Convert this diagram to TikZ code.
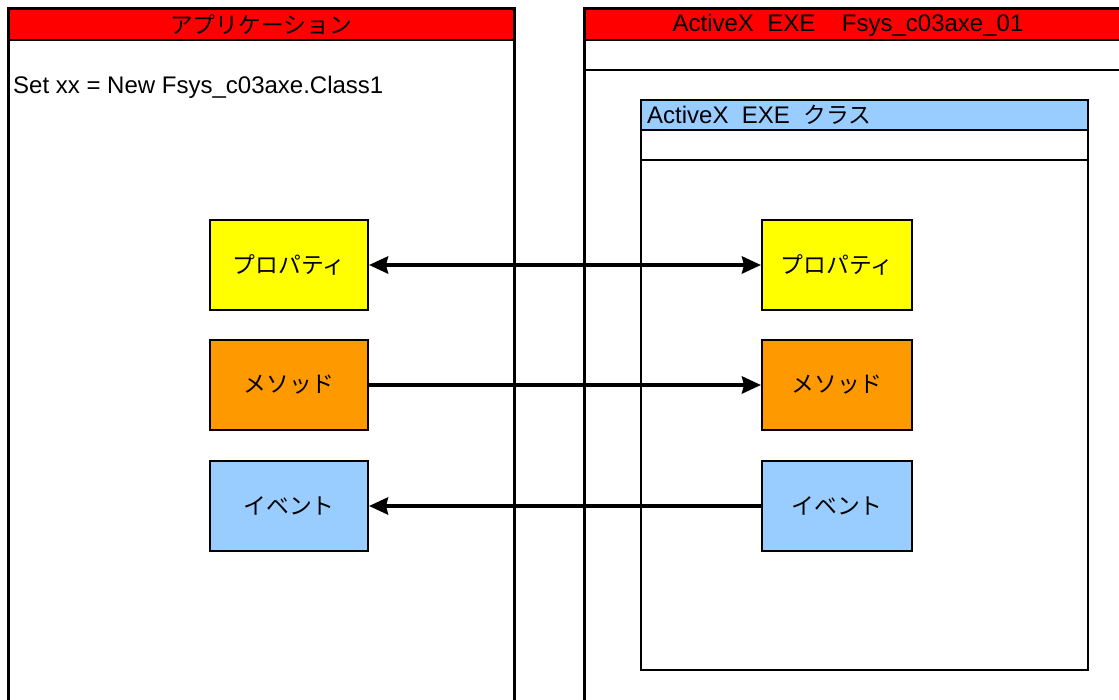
\documentclass[tikz,border=0pt]{standalone}
\usepackage{fontspec}
\setmainfont{Liberation Sans}
\newfontfamily\jp[Scale=0.95]{Noto Sans CJK JP}
\usetikzlibrary{arrows.meta,positioning}
\definecolor{hdred}{HTML}{FF0000}
\definecolor{clsblue}{HTML}{99CCFF}
\definecolor{propyel}{HTML}{FFFF00}
\definecolor{methorg}{HTML}{FF9900}
\definecolor{evtblue}{HTML}{99CCFF}

\begin{document}
\begin{tikzpicture}[x=1pt,y=-1pt,font=\fontsize{24}{28}\selectfont,line join=miter,
	>={Stealth[length=19pt,width=17pt,inset=2pt]},
	member/.style={draw,line width=2pt,inner sep=0pt,minimum height=90pt,font=\fontsize{24}{28}\selectfont\jp},
	link/.style={line width=4pt}]
	\useasboundingbox (0,0) rectangle (1119,700);
	\clip (0,0) rectangle (1119,700);
	\def\la{8}\def\lb{514}
	\def\ra{584}\def\rb{1130}
	%Panel: application
	\fill[hdred] (\la,9) rectangle (\lb,40);
	\draw[line width=2.5pt] (\la,40) -- (\lb,40);
	\draw[line width=3pt] (\la,720) -- (\la,9) -- (\lb,9) -- (\lb,720);
	\node (apptitle) at ({(\la+\lb)/2},25) {\jp アプリケーション};
	\node[anchor=west,inner sep=0pt] (appcode) at (13,87) {Set xx = New Fsys\_c03axe.Class1};
	%Panel: ActiveX EXE
	\fill[hdred] (\ra,9) rectangle (\rb,40);
	\draw[line width=2.5pt] (\ra,40) -- (\rb,40);
	\draw[line width=2pt] (\ra,70) -- (\rb,70);
	\draw[line width=3pt] (\ra,720) -- (\ra,9) -- (\rb,9);
	\node (exetitle) at (848,25) {ActiveX\ \ EXE\ \ \ \ Fsys\_c03axe\_01};
	%Class box
	\fill[clsblue] (641,100) rectangle (1088,130);
	\draw[line width=2pt] (641,130) -- (1088,130);
	\draw[line width=2pt] (641,160) -- (1088,160);
	\draw[line width=2pt] (641,100) rectangle (1088,670);
	\node[anchor=west,inner sep=0pt] (clstitle) at (647,115) {ActiveX\ \ EXE\ \ {\jp クラス}};
	%Members
	\node[member,fill=propyel,minimum width=158pt] (propL) at (289,265) {プロパティ};
	\node[member,fill=methorg,minimum width=158pt] (methL) at (289,385) {メソッド};
	\node[member,fill=evtblue,minimum width=158pt] (evtL) at (289,506) {イベント};
	\node[member,fill=propyel,minimum width=150pt] (propR) at (837,265) {プロパティ};
	\node[member,fill=methorg,minimum width=150pt] (methR) at (837,385) {メソッド};
	\node[member,fill=evtblue,minimum width=150pt] (evtR) at (837,506) {イベント};
	%Arrows
	\draw[link,<->] (propL) -- (propR);
	\draw[link,->] (methL) -- (methR);
	\draw[link,->] (evtR) -- (evtL);
\end{tikzpicture}
\end{document}
